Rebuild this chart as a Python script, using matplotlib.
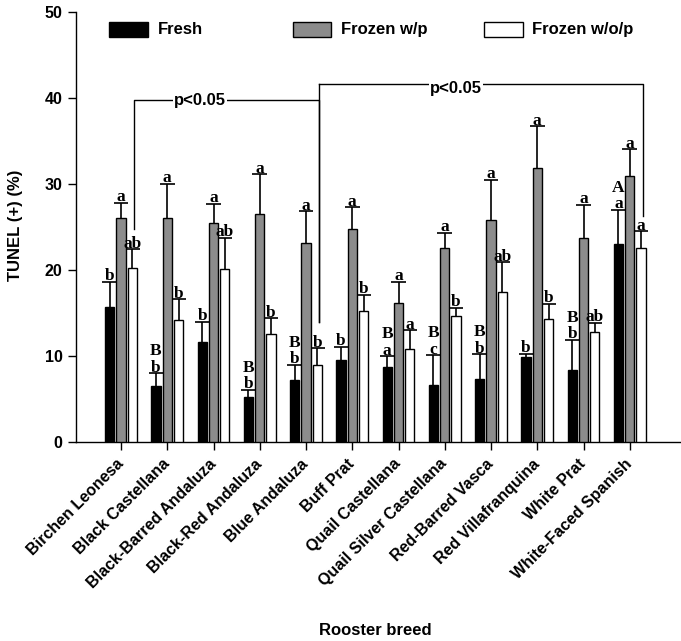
import numpy as np
import matplotlib.pyplot as plt
from matplotlib.patches import Rectangle

# Datos
razas = ['Birchen Leonesa', 'Black Castellana', 'Black-Barred Andaluza',
         'Black-Red Andaluza', 'Blue Andaluza', 'Buff Prat', 'Quail Castellana',
         'Quail Silver Castellana', 'Red-Barred Vasca', 'Red Villafranquina',
         'White Prat', 'White-Faced Spanish']

fresh = [15.7, 6.5, 11.6, 5.25, 7.2, 9.6, 8.7, 6.7, 7.3, 9.9, 8.4, 23.0]
fresh_err = [2.9, 1.5, 2.4, 0.85, 1.8, 1.5, 1.3, 3.4, 2.9, 0.4, 3.5, 4.0]
frozen_wp = [26.0, 26.1, 25.5, 26.5, 23.1, 24.8, 16.2, 22.55, 25.8, 31.8, 23.75, 30.9]
frozen_wp_err = [1.8, 3.9, 2.2, 4.6, 3.7, 2.5, 2.4, 1.75, 4.7, 4.9, 3.85, 3.1]
frozen_wop = [20.2, 14.25, 20.1, 12.6, 9.0, 15.25, 10.8, 14.7, 17.5, 14.3, 12.8, 22.55]
frozen_wop_err = [2.2, 2.35, 3.65, 1.8, 1.9, 1.85, 2.2, 0.9, 3.4, 1.8, 1.1, 1.95]

letras_fresh = ['b', 'b', 'b', 'b', 'b', 'b', 'a', 'c', 'b', 'b', 'b', 'a']
letras_fresh_mayus = ['', 'B', '', 'B', 'B', '', 'B', 'B', 'B', '', 'B', 'A']
letras_wp = ['a'] * 12
letras_wop = ['ab', 'b', 'ab', 'b', 'b', 'b', 'a', 'b', 'ab', 'b', 'ab', 'a']

# Corchetes de significancia: (inicio, fin, altura, bajada izq, bajada der)
corchetes = [(0, 4, 39.8, 24.8, 14.0), (4, 11, 41.6, 41.6, 26.3)]

W, H = 681, 641
fig = plt.figure(figsize=(W / 100, H / 100), dpi=100)
ax = fig.add_axes([76 / W, 1 - 442.3 / H, (680 - 76) / W, (442.3 - 11.7) / H])

x = np.arange(len(razas))
ancho = 0.2
desp = 0.245
cap = 0.16

series = [
    (fresh, fresh_err, 'black', -desp),
    (frozen_wp, frozen_wp_err, '#8c8c8c', 0.0),
    (frozen_wop, frozen_wop_err, 'white', desp),
]
for medias, errs, color, d in series:
    xs = x + d
    tops = np.array(medias) + np.array(errs)
    ax.vlines(xs, medias, tops, color='black', lw=1.2, zorder=2)
    ax.hlines(tops, xs - cap, xs + cap, color='black', lw=1.2, zorder=2)
    ax.bar(xs, medias, width=ancho, color=color, edgecolor='black', lw=1.0, zorder=3)

fuente_letra = dict(family='Liberation Serif', weight='bold', fontsize=12.5)
for grupo, (medias, errs, _, d) in enumerate(series):
    letras = [letras_fresh, letras_wp, letras_wop][grupo]
    for i in range(len(razas)):
        top = medias[i] + errs[i]
        ax.annotate(letras[i], (x[i] + d, top), xytext=(0, 1.2), textcoords='offset points',
                    ha='center', va='baseline', **fuente_letra)
        if grupo == 0 and letras_fresh_mayus[i]:
            ax.annotate(letras_fresh_mayus[i], (x[i] + d, top), xytext=(0, 13),
                        textcoords='offset points', ha='center', va='baseline', **fuente_letra)

# Corchetes
off = 0.28
for a, b, h, izq, der in corchetes:
    ax.plot([a + off, a + off, b + off, b + off], [izq, h, h, der], color='black', lw=1.0, zorder=1)
# linea vertical compartida bajo Blue Andaluza
ax.plot([4 + off, 4 + off], [14.0, 41.6], color='black', lw=1.0, zorder=1)

fuente_p = dict(family='Liberation Sans', weight='bold', fontsize=12)
ax.text(1.71, 39.7, 'p<0.05', ha='center', va='center', zorder=4,
        bbox=dict(facecolor='white', edgecolor='none', pad=0.5), **fuente_p)
ax.text(7.24, 41.05, 'p<0.05', ha='center', va='center', zorder=4,
        bbox=dict(facecolor='white', edgecolor='none', pad=1.0), **fuente_p)

ax.set_xlim((76 - 121) / 46.25, (680 - 121) / 46.25)
ax.set_ylim(0, 50)
ax.set_yticks(range(0, 51, 10))
ax.set_xticks(x)
ax.set_xticklabels(razas, rotation=45, ha='right', va='center', rotation_mode='anchor')
for lab in ax.get_xticklabels() + ax.get_yticklabels():
    lab.set_family('Liberation Sans')
    lab.set_fontweight('bold')
    lab.set_fontsize(11.5)
ax.tick_params(direction='out', length=5.8, width=1.0, pad=4)
ax.tick_params(axis='x', pad=8)
ax.spines['top'].set_visible(False)
ax.spines['right'].set_visible(False)
ax.spines['left'].set_linewidth(1.0)
ax.spines['bottom'].set_linewidth(1.0)

ax.set_ylabel('TUNEL (+) (%)', family='Liberation Sans', weight='bold', fontsize=12)
ax.yaxis.set_label_coords(-0.087, 0.505)
ax.set_xlabel('Rooster breed', family='Liberation Sans', weight='bold', fontsize=12)
ax.xaxis.set_label_coords(0.495, -0.42)

# Leyenda manual
leyenda = [('Fresh', 'black', 109.3, 157.7), ('Frozen w/p', '#8c8c8c', 292.7, 340.7),
           ('Frozen w/o/p', 'white', 484.3, 531.7)]
for nombre, color, bx, tx in leyenda:
    fig.add_artist(Rectangle((bx / W, 1 - 36.7 / H), 38.2 / W, 15.0 / H, transform=fig.transFigure,
                             facecolor=color, edgecolor='black', lw=1.0))
    fig.text(tx / W, 1 - 34.3 / H, nombre, ha='left', va='baseline',
             family='Liberation Sans', weight='bold', fontsize=12)

plt.savefig('out.png', dpi=100)
